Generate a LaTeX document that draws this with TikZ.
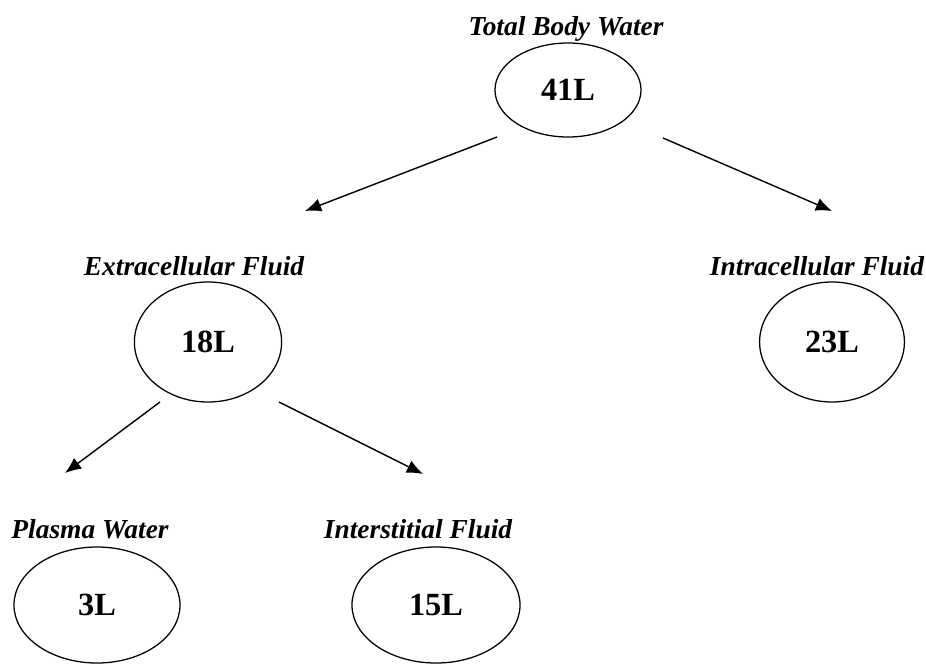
\documentclass[tikz,border=0pt]{standalone}
\usepackage{fontspec}
\setmainfont{Liberation Serif}
\usepackage{tikz}
\usetikzlibrary{arrows.meta,shapes.geometric}
\tikzset{
  >={Latex[length=11.5pt,width=9.5pt]},
}
\tikzstyle{flow}=[line width=1pt,->]
\tikzstyle{pool}=[draw,ellipse,line width=0.9pt,inner sep=0pt,font=\fontsize{23}{27}\selectfont\bfseries]
\tikzstyle{poolname}=[anchor=base,font=\fontsize{19.5}{23}\selectfont\bfseries\itshape,inner sep=0pt]

\begin{document}
\begin{tikzpicture}[x=0.025cm,y=-0.025cm]
    \useasboundingbox (0,0) rectangle (926,664);
    % fluid pools
    \node[pool,minimum width=3.65cm,minimum height=2.35cm] (tbw) at (568,90) {41L};
    \node[poolname] (tbwname) at (566,35) {Total Body Water};
    \node[pool,minimum width=3.68cm,minimum height=3cm] (ecf) at (208,342) {18L};
    \node[pool,minimum width=3.62cm,minimum height=3cm] (icf) at (832,342) {23L};
    \node[poolname] (ecfname) at (194,275) {Extracellular Fluid};
    \node[poolname] (icfname) at (817,275) {Intracellular Fluid};
    \node[pool,minimum width=4.15cm,minimum height=2.9cm] (pw) at (97,605) {3L};
    \node[pool,minimum width=4.2cm,minimum height=2.9cm] (isf) at (436,605) {15L};
    \node[poolname] (pwname) at (90,538) {Plasma Water};
    \node[poolname] (isfname) at (418,538) {Interstitial Fluid};
    % arrow ends
    \coordinate (a1) at (497,137); \coordinate (b1) at (305,211);
    \coordinate (a2) at (663,138); \coordinate (b2) at (832,211);
    \coordinate (a3) at (160,402); \coordinate (b3) at (65,473);
    \coordinate (a4) at (279,402); \coordinate (b4) at (423,474);
    \draw[flow] (a1)--(b1);
    \draw[flow] (a2)--(b2);
    \draw[flow] (a3)--(b3);
    \draw[flow] (a4)--(b4);
\end{tikzpicture}
\end{document}
